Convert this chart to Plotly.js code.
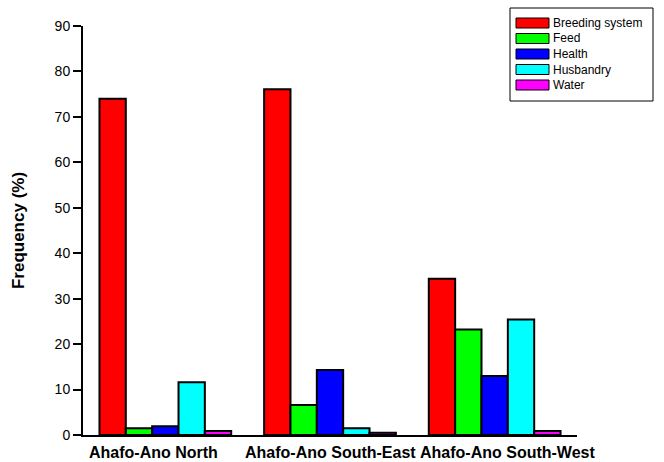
<!DOCTYPE html>
<html>
<head>
<meta charset="utf-8">
<script src="https://cdn.plot.ly/plotly-3.0.1.min.js"></script>
<style>html,body{margin:0;padding:0;background:#fff;}#chart{width:664px;height:462px;}</style>
</head>
<body>
<div id="chart"></div>
<script>
// Data
const districts = ["Ahafo-Ano North", "Ahafo-Ano South-East", "Ahafo-Ano South-West"];
const seriesNames = ["Breeding system", "Feed", "Health", "Husbandry", "Water"];
const seriesColors = ["#FF0000", "#00FF00", "#0000FF", "#00FFFF", "#FF00FF"];
const breeding = [74.0, 76.1, 34.4];
const feed = [1.5, 6.6, 23.2];
const health = [1.9, 14.3, 13.0];
const husbandry = [11.6, 1.5, 25.4];
const water = [0.9, 0.5, 0.9];
const yTicks = [0, 10, 20, 30, 40, 50, 60, 70, 80, 90];

const values = [breeding, feed, health, husbandry, water];
const FONT = "Liberation Sans, Arial, sans-serif";

const traces = values.map((v, i) => ({
  type: "bar",
  x: districts,
  y: v,
  name: seriesNames[i],
  marker: {color: seriesColors[i], line: {color: "#000", width: 2}},
  showlegend: false,
  hoverinfo: "x+y+name"
}));

// Custom legend (wide swatches like the reference)
const W = 664, H = 462;
const L = 83, R = 87, T = 26, B = 27;
const pw = W - L - R, ph = H - T - B;
const px = p => (p - L) / pw;
const py = p => (H - B - p) / ph;

const shapes = [{
  type: "rect", xref: "paper", yref: "paper",
  x0: px(510), x1: px(653), y0: py(101), y1: py(8),
  line: {color: "#000", width: 1}, fillcolor: "#fff", layer: "above"
}];
const annotations = [];
seriesNames.forEach((n, i) => {
  const cy = 23 + i * 15.5;
  shapes.push({
    type: "rect", xref: "paper", yref: "paper",
    x0: px(516), x1: px(549), y0: py(cy + 5), y1: py(cy - 5),
    line: {color: "#000", width: 1}, fillcolor: seriesColors[i], layer: "above"
  });
  annotations.push({
    xref: "paper", yref: "paper", x: px(551), y: py(cy),
    xanchor: "left", yanchor: "middle", showarrow: false,
    text: n, font: {family: FONT, size: 12, color: "#000"}
  });
});

// Category labels (offset as in the reference so they don't collide)
const labelShift = [-12, 0, 13];
districts.forEach((d, i) => {
  annotations.push({
    xref: "x", yref: "paper", x: d, y: 0,
    xanchor: "center", yanchor: "middle", showarrow: false,
    xshift: labelShift[i], yshift: -17, borderpad: 0,
    text: d, font: {family: FONT, size: 16, weight: "bold", color: "#000"}
  });
});

const layout = {
  width: W, height: H,
  margin: {l: L, r: R, t: T, b: B, pad: 0},
  paper_bgcolor: "#fff", plot_bgcolor: "#fff",
  barmode: "group",
  bargap: 0.2,
  bargroupgap: 0,
  showlegend: false,
  font: {family: FONT, color: "#000"},
  xaxis: {
    type: "category",
    range: [-0.5, 2.5],
    showline: true, linecolor: "#000", linewidth: 2,
    ticks: "", showgrid: false, zeroline: false,
    showticklabels: false,
    automargin: false
  },
  yaxis: {
    range: [0, 90],
    tickvals: yTicks,
    ticktext: yTicks.map(String),
    showline: true, linecolor: "#000", linewidth: 2,
    ticks: "outside", ticklen: 8, tickwidth: 2, tickcolor: "#000",
    showgrid: false, zeroline: false,
    tickfont: {size: 14, color: "#000"},
    title: {text: "Frequency (%)", font: {size: 17, weight: "bold", color: "#000"}, standoff: 26},
    automargin: false
  },
  shapes: shapes,
  annotations: annotations
};

Plotly.newPlot("chart", traces, layout, {displayModeBar: false, staticPlot: true});
</script>
</body>
</html>
